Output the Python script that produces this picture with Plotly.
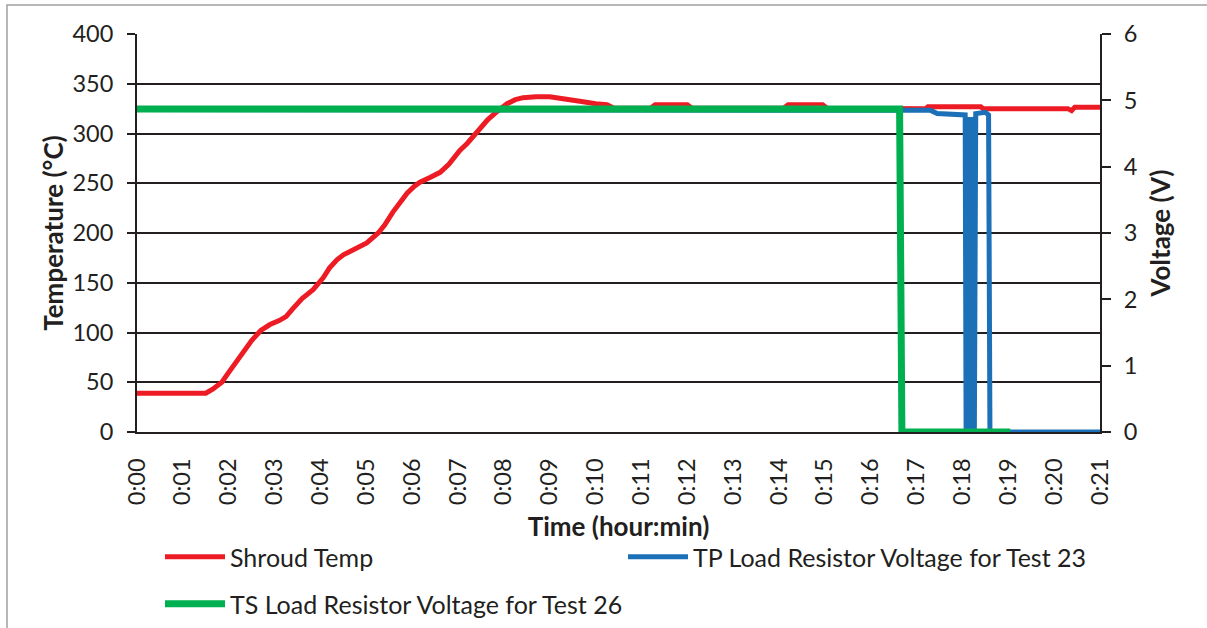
import plotly.graph_objects as go

# ---------------- data ----------------
x_tick_vals = list(range(0, 22))
x_tick_text = ["0:%02d" % m for m in x_tick_vals]

shroud_t = [0, 1.5, 1.65, 1.85, 2.0, 2.18, 2.35, 2.5, 2.7, 2.9, 3.1, 3.25, 3.4, 3.6, 3.84,
            4.06, 4.2, 4.36, 4.5, 4.71, 5.01, 5.26, 5.4, 5.58, 5.75, 5.89, 6.05, 6.17, 6.4,
            6.61, 6.8, 7.04, 7.2, 7.48, 7.65, 7.85, 8.07, 8.25, 8.42, 8.7, 9.0, 9.29, 9.5,
            9.73, 10.0, 10.25, 10.4, 11.2, 11.3, 12.0, 12.1, 14.1, 14.2, 14.95, 15.05, 16.6,
            17.2, 17.25, 18.4, 18.45, 20.3, 20.38, 20.45, 21.0]
shroud_temp = [39, 39, 43, 50, 60, 72, 83, 92, 102, 108, 112, 116, 124, 134, 143,
               155, 165, 173, 178, 183, 190, 200, 208, 221, 232, 240, 247, 251, 256,
               261, 269, 283, 290, 305, 314, 322, 330, 334, 336, 337, 337, 335, 334,
               332, 330, 329, 325.5, 325.5, 329, 329, 325.5, 325.5, 329, 329, 325.5, 325.5,
               325, 327, 327, 325, 325, 323, 326.5, 326.5]

tp_t = [0, 16.6, 17.3, 17.45, 17.95, 18.06, 18.08, 18.11, 18.14, 18.17, 18.20, 18.23, 18.26,
        18.29, 18.50, 18.57, 18.60, 21.0]
tp_volt = [4.86, 4.86, 4.85, 4.80, 4.78, 4.78, 0, 4.75, 0, 4.75, 0, 4.75, 0, 4.80,
           4.82, 4.78, 0, 0]

ts_t = [0, 16.63, 16.68, 19.04]
ts_volt = [4.87, 4.87, 0, 0]

temp_ticks = list(range(0, 401, 50))
volt_ticks = list(range(0, 7))

# ---------------- style ----------------
INK = "#231F20"
FONT = "Lato"
RED = "#ED1C24"
BLUE = "#1C70B8"
GREEN = "#00B050"

W, H = 1207, 628
L, R, T, B = 137, 107, 34, 196
pw, ph = W - L - R, H - T - B


def px_x(p):
    return (p - L) / pw


def px_y(p):
    return (H - B - p) / ph


fig = go.Figure()
fig.add_trace(go.Scatter(x=shroud_t, y=shroud_temp, mode="lines", name="Shroud Temp",
                         line=dict(color=RED, width=5), legend="legend", showlegend=True))
fig.add_trace(go.Scatter(x=tp_t, y=tp_volt, mode="lines",
                         name="TP Load Resistor Voltage for Test 23",
                         line=dict(color=BLUE, width=5), yaxis="y2", legend="legend2",
                         showlegend=True))
fig.add_trace(go.Scatter(x=ts_t, y=ts_volt, mode="lines",
                         name="TS Load Resistor Voltage for Test 26",
                         line=dict(color=GREEN, width=7), yaxis="y2", legend="legend3",
                         showlegend=True))

legend_common = dict(font=dict(family=FONT, size=25, color=INK), bgcolor="rgba(0,0,0,0)",
                     xanchor="left", yanchor="middle", borderwidth=0, itemwidth=60)
TICKF = dict(size=23.5, family=FONT, color=INK)
TITLEF = dict(size=26, family=FONT, color=INK)

fig.update_layout(
    width=W, height=H, autosize=False, showlegend=True,
    margin=dict(l=L, r=R, t=T, b=B, autoexpand=False),
    paper_bgcolor="white", plot_bgcolor="white",
    font=dict(family=FONT, color=INK),
    xaxis=dict(range=[0, 21], tickvals=x_tick_vals, ticktext=x_tick_text, automargin=False,
               tickangle=-90, tickfont=TICKF,
               showgrid=False, zeroline=False, showline=True, linecolor=INK, linewidth=2,
               ticks="", ticklabelstandoff=15,
               title=dict(text="<b>Time (hour:min)</b>", font=TITLEF, standoff=14)),
    yaxis=dict(range=[0, 400], tickvals=temp_ticks, tickfont=TICKF,
               automargin=False, ticklabelstandoff=9,
               showgrid=True, gridcolor=INK, gridwidth=1.5, zeroline=False,
               showline=True, linecolor=INK, linewidth=2,
               ticks="outside", ticklen=8, tickcolor=INK, tickwidth=1.5,
               title=dict(text="<b>Temperature (°C)</b>", font=TITLEF, standoff=1)),
    yaxis2=dict(range=[0, 6], tickvals=volt_ticks, overlaying="y", side="right", anchor="x",
                tickfont=TICKF, automargin=False, ticklabelstandoff=8,
                showgrid=False, zeroline=False, showline=True, linecolor=INK, linewidth=2,
                ticks="outside", ticklen=9, tickcolor=INK, tickwidth=1.5,
                title=dict(text="<b>Voltage (V)</b>", font=TITLEF, standoff=15)),
    yaxis3=dict(range=[0, 6], tickvals=volt_ticks, overlaying="y", side="left",
                anchor="free", position=1, showticklabels=False, automargin=False,
                showgrid=False, zeroline=False, showline=False,
                ticks="outside", ticklen=9, tickcolor=INK, tickwidth=1.5),
    legend=dict(x=px_x(160), y=px_y(557), **legend_common),
    legend2=dict(x=px_x(623), y=px_y(557), **legend_common),
    legend3=dict(x=px_x(160), y=px_y(604), **legend_common),
    shapes=[dict(type="rect", xref="paper", yref="paper",
                 x0=px_x(7), y0=px_y(5), x1=px_x(1215), y1=px_y(640),
                 line=dict(color="#A0A0A0", width=1.5), layer="below")],
)

fig.write_html("out.html", config={"displayModeBar": False},
               post_script="document.body.style.margin='0';document.body.style.overflow='hidden';")
